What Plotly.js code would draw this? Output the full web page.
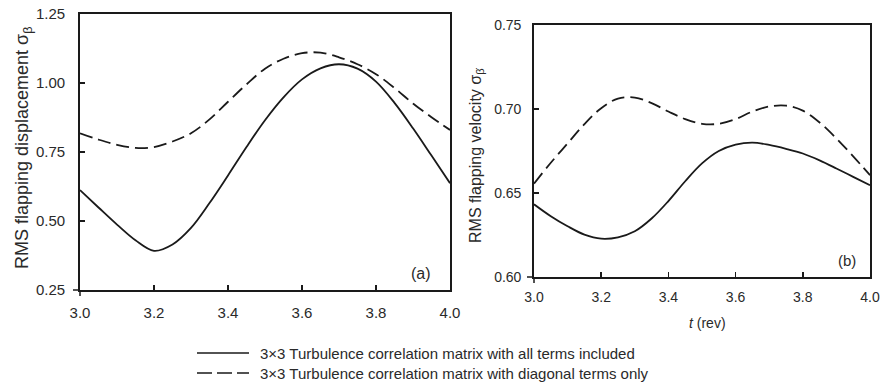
<!DOCTYPE html>
<html>
<head>
<meta charset="utf-8">
<script src="https://cdn.plot.ly/plotly-3.0.1.min.js"></script>
<style>
  html, body { margin: 0; padding: 0; background: #fff; }
  #chart { width: 882px; height: 387px; }
</style>
</head>
<body>
<div id="chart"></div>
<script>
// Time in revolutions
const tRev = [3.00, 3.05, 3.10, 3.15, 3.20, 3.25, 3.30, 3.35, 3.40, 3.45, 3.50,
              3.55, 3.60, 3.65, 3.70, 3.75, 3.80, 3.85, 3.90, 3.95, 4.00];

// (a) RMS flapping displacement
const dispAllTerms = [0.612, 0.549, 0.487, 0.430, 0.392, 0.415, 0.475, 0.565, 0.665, 0.768, 0.865,
                      0.948, 1.013, 1.053, 1.068, 1.052, 1.005, 0.928, 0.836, 0.737, 0.637];
const dispDiagonal = [0.818, 0.795, 0.776, 0.765, 0.768, 0.788, 0.818, 0.868, 0.932, 0.995, 1.052,
                      1.088, 1.108, 1.110, 1.093, 1.068, 1.032, 0.982, 0.926, 0.876, 0.830];

// (b) RMS flapping velocity
const velAllTerms = [0.6433, 0.6362, 0.6302, 0.6252, 0.6228, 0.6236, 0.6272, 0.6348, 0.6452, 0.6570, 0.6676,
                     0.6750, 0.6788, 0.6800, 0.6786, 0.6763, 0.6735, 0.6694, 0.6646, 0.6596, 0.6546];
const velDiagonal = [0.6556, 0.6680, 0.6795, 0.6910, 0.7005, 0.7062, 0.7068, 0.7035, 0.6985, 0.6940, 0.6912,
                     0.6912, 0.6940, 0.6985, 0.7015, 0.7020, 0.6990, 0.6920, 0.6825, 0.6718, 0.6606];

const seriesNames = [
  '3\u00d73 Turbulence correlation matrix with all terms included',
  '3\u00d73 Turbulence correlation matrix with diagonal terms only'
];
const xTicks = [3.0, 3.2, 3.4, 3.6, 3.8, 4.0];
const xTickText = ['3.0', '3.2', '3.4', '3.6', '3.8', '4.0'];
const yTicksA = [0.25, 0.50, 0.75, 1.00, 1.25];
const yTicksB = [0.60, 0.65, 0.70, 0.75];

const W = 882, H = 387;
const FONT = '"Liberation Sans", Arial, Helvetica, sans-serif';
const INK = '#1a1a1a';
const TXT = '#2a2a2a';
const DASH = '13px,6px';

// panel boxes in pixels: [left, right, top, bottom]
const boxA = [80, 450, 14, 290];
const boxB = [534, 870, 25, 277];
const px = v => v / W;
const py = v => 1 - v / H;

function lineTrace(y, xa, ya, dashed) {
  return {
    x: tRev, y: y, xaxis: xa, yaxis: ya, type: 'scatter', mode: 'lines',
    line: { color: INK, width: 1.8, shape: 'spline', smoothing: 1, dash: dashed ? DASH : 'solid' },
    showlegend: false, hoverinfo: 'skip'
  };
}

const data = [
  lineTrace(dispAllTerms, 'x', 'y', false),
  lineTrace(dispDiagonal, 'x', 'y', true),
  lineTrace(velAllTerms, 'x2', 'y2', false),
  lineTrace(velDiagonal, 'x2', 'y2', true)
];

function xAxis(box, fs, standoff, anchor) {
  return {
    domain: [px(box[0]), px(box[1])], anchor: anchor,
    range: [3.0, 4.0], tickvals: xTicks, ticktext: xTickText,
    ticks: 'inside', ticklen: 5, tickwidth: 1.5, tickcolor: INK,
    showline: true, linecolor: INK, linewidth: 1.8, mirror: true,
    showgrid: false, zeroline: false, fixedrange: true,
    tickfont: { family: FONT, size: fs, color: TXT }, ticklabelstandoff: standoff
  };
}
function yAxis(box, range, vals, fs, standoff, anchor) {
  return {
    domain: [py(box[3]), py(box[2])], anchor: anchor,
    range: range, tickvals: vals, ticktext: vals.map(v => v.toFixed(2)),
    ticks: 'inside', ticklen: 5, tickwidth: 1.5, tickcolor: INK,
    showline: true, linecolor: INK, linewidth: 1.8, mirror: true,
    showgrid: false, zeroline: false, fixedrange: true,
    tickfont: { family: FONT, size: fs, color: TXT }, ticklabelstandoff: standoff
  };
}

// small crossing marks at each panel's lower-left corner
function cornerMarks(box) {
  return [
    { type: 'line', xref: 'paper', yref: 'paper', x0: px(box[0] - 7), x1: px(box[0]), y0: py(box[3]), y1: py(box[3]),
      line: { color: INK, width: 1.5 } },
    { type: 'line', xref: 'paper', yref: 'paper', x0: px(box[0]), x1: px(box[0]), y0: py(box[3]), y1: py(box[3] + 6),
      line: { color: INK, width: 1.5 } }
  ];
}

// legend rows drawn below the panels
const legY = [353, 373];
const legendShapes = legY.map((yy, i) => ({
  type: 'line', xref: 'paper', yref: 'paper', x0: px(197), x1: px(249), y0: py(yy), y1: py(yy),
  line: { color: INK, width: 1.6, dash: i === 0 ? 'solid' : '15px,5px' }
}));
const legendText = legY.map((yy, i) => ({
  xref: 'paper', yref: 'paper', x: px(258), y: py(yy), xanchor: 'left', yanchor: 'middle',
  text: seriesNames[i], showarrow: false, font: { family: FONT, size: 15, color: TXT }
}));

const layout = {
  width: W, height: H,
  margin: { l: 0, r: 0, t: 0, b: 0 },
  paper_bgcolor: '#fff', plot_bgcolor: '#fff',
  showlegend: false,
  xaxis: xAxis(boxA, 15, 8, 'y'),
  yaxis: yAxis(boxA, [0.25, 1.25], yTicksA, 15, 10, 'x'),
  xaxis2: xAxis(boxB, 14, 6, 'y2'),
  yaxis2: yAxis(boxB, [0.60, 0.75], yTicksB, 14, 8, 'x2'),
  shapes: [].concat(cornerMarks(boxA), cornerMarks(boxB), legendShapes),
  annotations: [
    { xref: 'paper', yref: 'paper', x: px(23), y: py(148), textangle: -90,
      text: 'RMS flapping displacement \u03c3<sub>\u03b2</sub>', showarrow: false,
      xanchor: 'center', yanchor: 'middle', font: { family: FONT, size: 18, color: TXT } },
    { xref: 'paper', yref: 'paper', x: px(476), y: py(155), textangle: -90,
      text: 'RMS flapping velocity \u03c3<sub>\u03b2\u0307</sub>', showarrow: false,
      xanchor: 'center', yanchor: 'middle', font: { family: FONT, size: 16, color: TXT } },
    { xref: 'paper', yref: 'paper', x: px(421), y: py(273), text: '(a)', showarrow: false,
      xanchor: 'center', yanchor: 'middle', font: { family: FONT, size: 16, color: TXT } },
    { xref: 'paper', yref: 'paper', x: px(847), y: py(260), text: '(b)', showarrow: false,
      xanchor: 'center', yanchor: 'middle', font: { family: FONT, size: 15, color: TXT } },
    { xref: 'paper', yref: 'paper', x: px(707), y: py(323), text: '<i>t</i> (rev)', showarrow: false,
      xanchor: 'center', yanchor: 'middle', font: { family: FONT, size: 14, color: TXT } }
  ].concat(legendText)
};

Plotly.newPlot('chart', data, layout, { displayModeBar: false, staticPlot: true });
</script>
</body>
</html>
